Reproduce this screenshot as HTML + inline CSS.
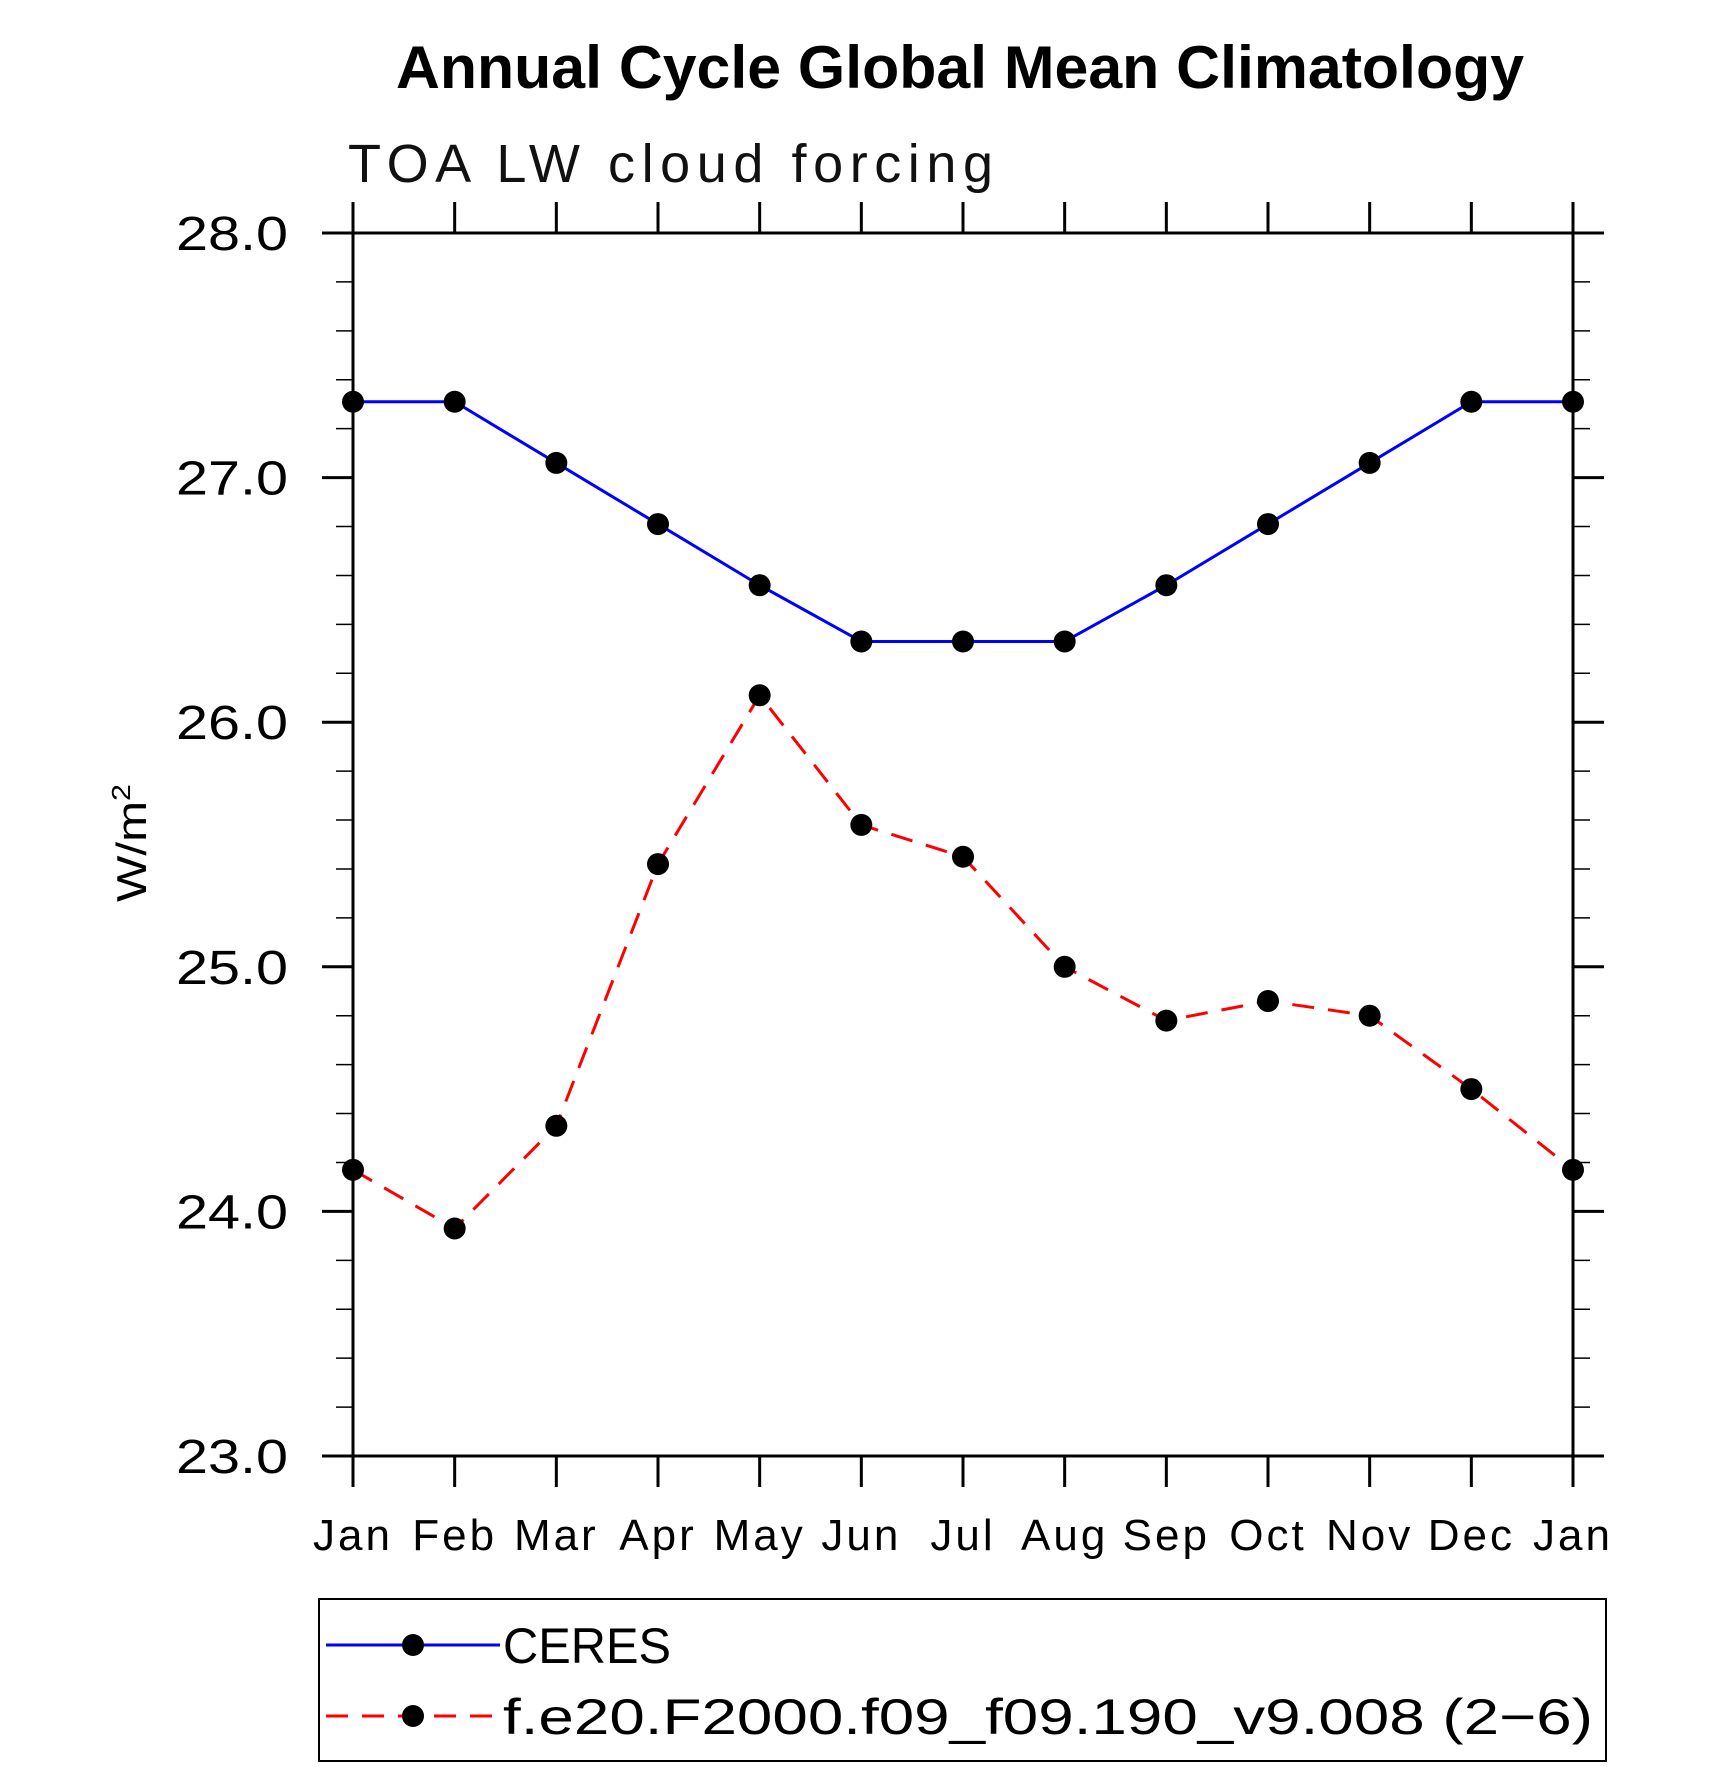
<!DOCTYPE html>
<html><head><meta charset="utf-8"><style>
html,body{margin:0;padding:0;background:#fff;}
svg text{font-family:"Liberation Sans",sans-serif;}
</style></head><body>
<svg id="chart" width="1710" height="1762" viewBox="0 0 1710 1762" xmlns="http://www.w3.org/2000/svg">
<text x="960" y="88" font-size="60" font-weight="bold" text-anchor="middle" textLength="1128" lengthAdjust="spacingAndGlyphs">Annual Cycle Global Mean Climatology</text>
<text x="348" y="182" font-size="54" fill="#111" textLength="645" lengthAdjust="spacing">TOA LW cloud forcing</text>
<text transform="translate(146,843) rotate(-90)" font-size="42" text-anchor="middle" textLength="118" lengthAdjust="spacingAndGlyphs">W/m<tspan font-size="26" dy="-16">2</tspan></text>
<g id="axes"></g>
<g id="series"></g>
<rect x="319" y="1599" width="1287" height="162" fill="none" stroke="#000" stroke-width="2"/>
<g>
<line x1="326" y1="1645" x2="500" y2="1645" stroke="#0000ff" stroke-width="3"/>
<circle cx="413" cy="1645" r="11" fill="#000"/>
<text x="503" y="1663" font-size="50" textLength="168" lengthAdjust="spacingAndGlyphs">CERES</text>
</g>
<g>
<line x1="326" y1="1716" x2="500" y2="1716" stroke="#ff0000" stroke-width="3" stroke-dasharray="22,14"/>
<circle cx="413" cy="1716" r="11" fill="#000"/>
<text x="503" y="1734" font-size="50" textLength="1090" lengthAdjust="spacingAndGlyphs">f.e20.F2000.f09_f09.190_v9.008 (2−6)</text>
</g>
</svg>
<script>
const months = ["Jan","Feb","Mar","Apr","May","Jun","Jul","Aug","Sep","Oct","Nov","Dec","Jan"];
const ceres = [27.31,27.31,27.06,26.81,26.56,26.33,26.33,26.33,26.56,26.81,27.06,27.31,27.31];
const model = [24.17,23.93,24.35,25.42,26.11,25.58,25.45,25.0,24.78,24.86,24.80,24.50,24.17];
const yTicks = [23,24,25,26,27,28];
const yTickLabels = ["23.0","24.0","25.0","26.0","27.0","28.0"];

const L=353,R=1573,T=233,B=1456,yMin=23,yMax=28;
const NS="http://www.w3.org/2000/svg";
function xS(i){return L+(R-L)*i/(months.length-1);}
function yS(v){return B-(v-yMin)/(yMax-yMin)*(B-T);}
function mk(tag,attrs,parent){const e=document.createElementNS(NS,tag);for(const k in attrs)e.setAttribute(k,attrs[k]);parent.appendChild(e);return e;}
const ax=document.getElementById('axes'), sr=document.getElementById('series');
const frame=mk('rect',{x:L,y:T,width:R-L,height:B-T,fill:'none',stroke:'#000','stroke-width':3},ax);


months.forEach((m,i)=>{
  const x=xS(i);
  const t1=mk('line',{x1:x,y1:T,x2:x,y2:T-31,stroke:'#000','stroke-width':3},ax);
  
  
  const t2=mk('line',{x1:x,y1:B,x2:x,y2:B+31,stroke:'#000','stroke-width':3},ax);
  
  
  const tx=mk('text',{x:x,y:1550,'font-size':44,'text-anchor':'middle','letter-spacing':3},ax);
  tx.textContent=m;
  
  
});
for(let v=yMin;v<=yMax+1e-9;v+=0.2){
  const y=yS(v);const major=Math.abs(v-Math.round(v))<1e-6;const len=major?31:17;
  const a=mk('line',{x1:L,y1:y,x2:L-len,y2:y,stroke:'#000','stroke-width':major?3:1.5},ax);
  
  
  const b=mk('line',{x1:R,y1:y,x2:R+len,y2:y,stroke:'#000','stroke-width':major?3:1.5},ax);
  
  
}
yTicks.forEach((v,i)=>{
  const tx=mk('text',{x:176,y:yS(v)+17,'font-size':48,textLength:112,lengthAdjust:'spacingAndGlyphs'},ax);
  tx.textContent=yTickLabels[i];
  
  
});
function series(vals,color,dash,name){
  const pts=vals.map((v,i)=>xS(i)+','+yS(v)).join(' ');
  const pl=mk('polyline',{points:pts,fill:'none',stroke:color,'stroke-width':3},sr);
  if(dash)pl.setAttribute('stroke-dasharray',dash);
  
  
  vals.forEach((v,i)=>{
    const c=mk('circle',{cx:xS(i),cy:yS(v),r:11,fill:'#000'},sr);
    
    
  });
}
series(ceres,'#0000ff',null,'ceres');
series(model,'#ff0000','22,14','model');
</script>
</body></html>
